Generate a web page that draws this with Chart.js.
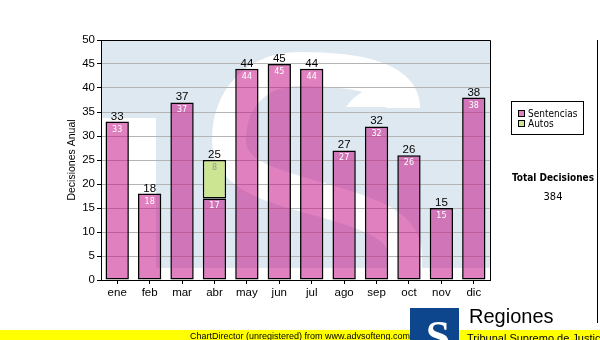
<!DOCTYPE html>
<html>
<head>
<meta charset="utf-8">
<script src="https://cdn.jsdelivr.net/npm/chart.js@4"></script>
<style>
  html, body { margin: 0; padding: 0; background: #fff; }
</style>
</head>
<body>
<canvas id="chart" width="600" height="340"></canvas>
<script>
// data
const months = ['ene', 'feb', 'mar', 'abr', 'may', 'jun', 'jul', 'ago', 'sep', 'oct', 'nov', 'dic'];
const sentencias = [33, 18, 37, 17, 44, 45, 44, 27, 32, 26, 15, 38];
const autos = [null, null, null, 8, null, null, null, null, null, null, null, null];
const yMax = 50;
const yStep = 5;

const totals = months.map((m, i) => (sentencias[i] || 0) + (autos[i] || 0));
const grandTotal = totals.reduce((a, b) => a + b, 0);

const PINK = 'rgba(196, 15, 132, 0.53)';
const GREEN = '#cbe592';
const SANS = '"Liberation Sans", Arial, sans-serif';
const TAHOMA = '"DejaVu Sans Condensed", "DejaVu Sans", sans-serif';

// light blue plot background with the faint logo watermark
const backdrop = {
  id: 'backdrop',
  beforeDraw(chart) {
    const { ctx, chartArea: a } = chart;
    ctx.save();
    ctx.fillStyle = '#fff';
    ctx.fillRect(0, 0, chart.width, chart.height);
    ctx.beginPath();
    ctx.rect(a.left, a.top, a.right - a.left, a.bottom - a.top);
    ctx.clip();
    ctx.fillStyle = '#dee8f1';
    ctx.fillRect(a.left, a.top, a.right - a.left, a.bottom - a.top);

    ctx.fillStyle = '#fff';
    ctx.fillRect(a.left, 118, 55, a.bottom - 118);
    ctx.fillRect(a.left, 268, a.right - a.left, a.bottom - 268);

    ctx.strokeStyle = '#fff';
    ctx.lineWidth = 34;
    ctx.beginPath();
    ctx.moveTo(403, 108);
    ctx.bezierCurveTo(403, 76, 350, 69, 300, 69);
    ctx.bezierCurveTo(255, 69, 229, 100, 229, 140);
    ctx.bezierCurveTo(229, 176, 272, 186, 322, 200);
    ctx.bezierCurveTo(372, 214, 405, 226, 405, 255);
    ctx.lineTo(405, 285);
    ctx.stroke();
    ctx.beginPath();
    ctx.moveTo(346, 107);
    ctx.lineTo(392, 107);
    ctx.lineTo(392, 85);
    ctx.quadraticCurveTo(360, 86, 346, 107);
    ctx.closePath();
    ctx.fill();
    ctx.restore();
  }
};

const valueLabels = {
  id: 'valueLabels',
  afterDatasetsDraw(chart) {
    const { ctx } = chart;
    ctx.save();
    ctx.textAlign = 'center';
    ctx.textBaseline = 'alphabetic';
    chart.data.datasets.forEach((ds, i) => {
      chart.getDatasetMeta(i).data.forEach((bar, j) => {
        const v = ds.data[j];
        if (!v) return;
        ctx.font = '8px "DejaVu Sans", sans-serif';
        ctx.fillStyle = i === 0 ? '#fff' : '#9a9a9a';
        ctx.fillText(String(v), bar.x, bar.y + 10);
      });
    });
    const y = chart.scales.y;
    const bars = chart.getDatasetMeta(0).data;
    ctx.font = '11.5px ' + SANS;
    ctx.fillStyle = '#000';
    totals.forEach((t, j) => {
      ctx.fillText(String(t), bars[j].x, y.getPixelForValue(t) - 2);
    });
    ctx.restore();
  }
};

const frame = {
  id: 'frame',
  afterDraw(chart) {
    const { ctx, chartArea: a } = chart;
    ctx.save();
    ctx.strokeStyle = '#000';
    ctx.lineWidth = 1;
    ctx.beginPath();
    ctx.moveTo(a.left, a.top + 0.5);
    ctx.lineTo(a.right + 0.5, a.top + 0.5);
    ctx.lineTo(a.right + 0.5, a.bottom);
    ctx.moveTo(597.5, a.top);
    ctx.lineTo(597.5, 323);
    ctx.stroke();

    // legend
    ctx.fillStyle = '#fff';
    ctx.fillRect(511, 101, 72, 33);
    ctx.strokeRect(511.5, 101.5, 72, 33);
    const items = [['Sentencias', 'rgb(224,128,190)'], ['Autos', GREEN]];
    ctx.font = '10px ' + TAHOMA;
    ctx.textAlign = 'left';
    ctx.textBaseline = 'middle';
    items.forEach(([label, color], k) => {
      const yy = 114 + k * 10;
      ctx.fillStyle = color;
      ctx.fillRect(518, yy - 4, 7, 7);
      ctx.strokeRect(518.5, yy - 3.5, 6, 6);
      ctx.fillStyle = '#000';
      ctx.fillText(label, 528, yy);
    });

    // total
    ctx.textAlign = 'center';
    ctx.font = 'bold 10px ' + TAHOMA;
    ctx.fillText('Total Decisiones', 553, 178);
    ctx.font = '11px ' + TAHOMA;
    ctx.fillText(String(grandTotal), 553, 197);

    // footer
    ctx.fillStyle = '#ffff00';
    ctx.fillRect(0, 330, 600, 10);
    ctx.fillStyle = '#000';
    ctx.font = '9px ' + SANS;
    ctx.textBaseline = 'alphabetic';
    ctx.fillText('ChartDirector (unregistered) from www.advsofteng.com', 300, 338.5);

    // logo
    ctx.fillStyle = '#0d468d';
    ctx.fillRect(410, 308, 49, 32);
    ctx.save();
    ctx.beginPath();
    ctx.rect(410, 308, 49, 32);
    ctx.clip();
    ctx.fillStyle = '#fff';
    ctx.font = 'bold 44px "Liberation Serif", serif';
    ctx.fillText('S', 438, 351);
    ctx.restore();
    ctx.fillStyle = '#000';
    ctx.textAlign = 'left';
    ctx.font = '20px ' + SANS;
    ctx.fillText('Regiones', 469, 323);
    ctx.font = '11px ' + SANS;
    ctx.fillText('Tribunal Supremo de Justicia', 467, 342);
    ctx.restore();
  }
};

new Chart(document.getElementById('chart'), {
  type: 'bar',
  data: {
    labels: months,
    datasets: [
      {
        label: 'Sentencias',
        data: sentencias,
        backgroundColor: PINK,
        borderColor: '#000',
        borderWidth: 1.5,
        borderSkipped: false,
      },
      {
        label: 'Autos',
        data: autos,
        backgroundColor: GREEN,
        borderColor: '#000',
        borderWidth: 1.5,
        borderSkipped: false,
      },
    ],
  },
  options: {
    responsive: false,
    animation: false,
    devicePixelRatio: 1,
    layout: { padding: { left: 66, right: 110, top: 40, bottom: 40 } },
    datasets: { bar: { categoryPercentage: 1, barPercentage: 0.72 } },
    plugins: { legend: { display: false }, tooltip: { enabled: false } },
    scales: {
      x: {
        stacked: true,
        grid: { display: true, drawOnChartArea: false, offset: false, tickLength: 4, tickColor: '#000' },
        border: { color: '#000', width: 1 },
        ticks: { color: '#000', font: { family: SANS, size: 11.5 }, padding: 2, maxRotation: 0 },
        afterFit: (s) => { s.height = 20; },
      },
      y: {
        stacked: true,
        min: 0,
        max: yMax,
        ticks: { stepSize: yStep, color: '#000', font: { family: SANS, size: 11.5 }, padding: 2 },
        grid: { color: '#b4b4b4', tickColor: '#000', tickLength: 4 },
        border: { color: '#000', width: 1 },
        title: { display: true, text: 'Decisiones Anual', color: '#000', font: { family: SANS, size: 10.5 }, padding: 0 },
        afterFit: (s) => { s.width = 35; },
      },
    },
  },
  plugins: [backdrop, valueLabels, frame],
});
</script>
</body>
</html>
